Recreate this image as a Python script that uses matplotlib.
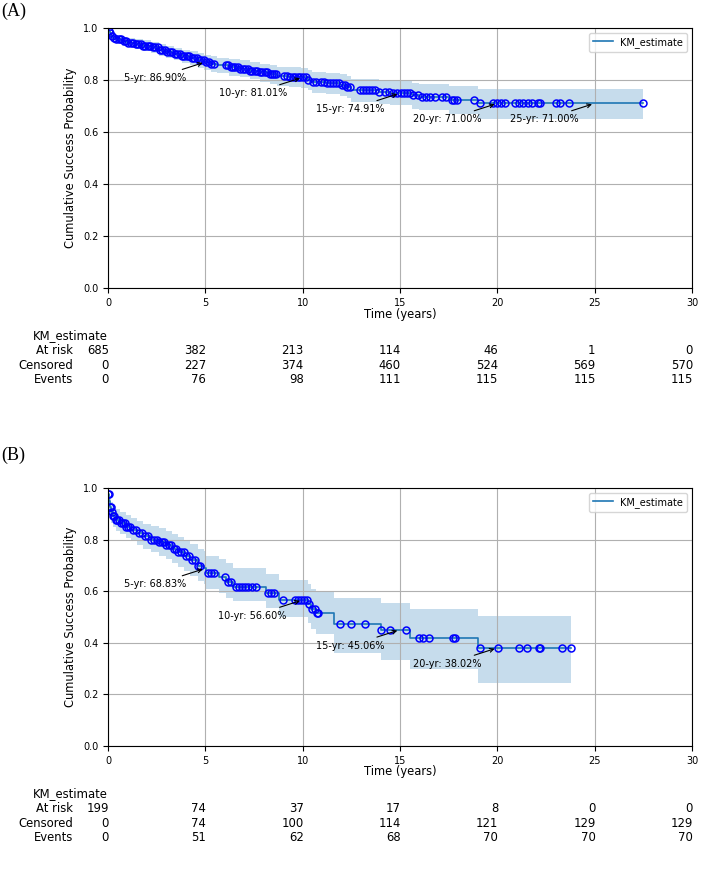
import numpy as np
import matplotlib
matplotlib.use("Agg")
import matplotlib.pyplot as plt
from matplotlib.transforms import offset_copy

plt.rcParams['font.family'] = 'DejaVu Sans'

# ---------------- Panel A data ----------------
time_a = [0, 0.03, 0.08, 0.15, 0.25, 0.4, 0.7, 1.0, 1.4, 1.8, 2.2, 2.6, 3.0, 3.4, 3.8,
          4.2, 4.6, 4.95, 5.3, 5.6, 6.2, 6.8, 7.3, 7.8, 8.3, 8.7, 9.3, 9.9, 10.3, 10.5,
          11.2, 11.9, 12.3, 12.5, 13.9, 14.5, 15.6, 16.0, 17.5, 19.0]
surv_a = [1.0, 0.99, 0.98, 0.97, 0.962, 0.956, 0.95, 0.944, 0.938, 0.932, 0.925, 0.917,
          0.909, 0.9, 0.892, 0.884, 0.876, 0.869, 0.862, 0.856, 0.849, 0.843, 0.836, 0.829,
          0.822, 0.815, 0.812, 0.8101, 0.8, 0.792, 0.787, 0.781, 0.774, 0.76, 0.755, 0.7491,
          0.741, 0.736, 0.724, 0.71]
ci_lo_a = [1.0, 0.982, 0.969, 0.957, 0.947, 0.94, 0.932, 0.925, 0.918, 0.911, 0.903, 0.894,
           0.885, 0.875, 0.866, 0.857, 0.848, 0.84, 0.832, 0.825, 0.817, 0.81, 0.802, 0.794,
           0.786, 0.778, 0.774, 0.771, 0.76, 0.751, 0.745, 0.738, 0.73, 0.715, 0.709, 0.702,
           0.69, 0.684, 0.669, 0.649]
ci_hi_a = [1.0, 0.997, 0.991, 0.983, 0.977, 0.972, 0.967, 0.962, 0.957, 0.952, 0.946, 0.939,
           0.932, 0.924, 0.917, 0.91, 0.903, 0.897, 0.891, 0.886, 0.88, 0.875, 0.869, 0.863,
           0.857, 0.851, 0.849, 0.848, 0.839, 0.832, 0.828, 0.823, 0.817, 0.803, 0.799, 0.795,
           0.79, 0.786, 0.777, 0.767]
end_a = 27.5
censor_a = [0.05, 0.12, 0.2, 0.3, 0.42, 0.55, 0.68, 0.8, 0.93, 1.05, 1.18, 1.3, 1.42, 1.55,
            1.68, 1.8, 1.92, 2.05, 2.18, 2.3, 2.42, 2.55, 2.68, 2.8, 2.92, 3.05, 3.18, 3.3,
            3.42, 3.55, 3.68, 3.8, 3.92, 4.05, 4.18, 4.3, 4.42, 4.55, 4.68, 4.8, 4.92, 5.05,
            5.18, 5.3, 5.45, 6.05, 6.18, 6.3, 6.42, 6.55, 6.68, 6.8, 6.92, 7.05, 7.18, 7.3,
            7.42, 7.55, 7.68, 7.8, 7.92, 8.05, 8.18, 8.3, 8.42, 8.55, 8.65, 9.05, 9.2, 9.35,
            9.5, 9.62, 9.75, 9.88, 10.0, 10.15, 10.3, 10.55, 10.7, 10.95, 11.1, 11.25, 11.4,
            11.55, 11.7, 11.85, 12.0, 12.15, 12.3, 12.45, 12.95, 13.1, 13.25, 13.4, 13.55,
            13.7, 13.9, 14.25, 14.45, 14.65, 14.85, 15.05, 15.2, 15.35, 15.5, 15.65, 15.95,
            16.15, 16.35, 16.55, 16.8, 17.15, 17.35, 17.65, 17.8, 17.95, 18.8, 19.1, 19.8,
            20.0, 20.2, 20.4, 20.9, 21.1, 21.3, 21.6, 21.8, 22.1, 22.2, 23.0, 23.2, 23.7, 27.5]
milestones_a = [5, 10, 15, 20, 25]
milestone_surv_a = [0.8690, 0.8101, 0.7491, 0.7100, 0.7100]
at_risk_a = [685, 382, 213, 114, 46, 1, 0]
censored_a = [0, 227, 374, 460, 524, 569, 570]
events_a = [0, 76, 98, 111, 115, 115, 115]

# ---------------- Panel B data ----------------
time_b = [0, 0.02, 0.06, 0.1, 0.15, 0.25, 0.4, 0.6, 0.9, 1.2, 1.5, 1.8, 2.2, 2.6, 3.0,
          3.3, 3.6, 3.9, 4.2, 4.6, 4.95, 5.05, 5.7, 6.05, 6.4, 8.1, 8.8, 10.25, 10.45,
          10.7, 11.6, 14.0, 15.5, 19.0]
surv_b = [1.0, 0.975, 0.95, 0.925, 0.905, 0.89, 0.877, 0.863, 0.85, 0.838, 0.825, 0.812,
          0.8, 0.79, 0.779, 0.765, 0.75, 0.735, 0.72, 0.698, 0.6883, 0.669, 0.655, 0.637,
          0.617, 0.592, 0.566, 0.55, 0.53, 0.514, 0.472, 0.4506, 0.417, 0.3802]
ci_lo_b = [1.0, 0.95, 0.91, 0.88, 0.865, 0.85, 0.835, 0.82, 0.805, 0.795, 0.78, 0.765,
           0.75, 0.737, 0.725, 0.71, 0.693, 0.677, 0.66, 0.64, 0.628, 0.61, 0.592, 0.575,
           0.56, 0.535, 0.5, 0.475, 0.455, 0.435, 0.362, 0.333, 0.297, 0.245]
ci_hi_b = [1.0, 0.99, 0.975, 0.96, 0.945, 0.93, 0.92, 0.905, 0.895, 0.885, 0.873, 0.862,
           0.852, 0.843, 0.834, 0.822, 0.809, 0.796, 0.783, 0.764, 0.755, 0.737, 0.724,
           0.708, 0.69, 0.667, 0.645, 0.627, 0.61, 0.595, 0.574, 0.553, 0.531, 0.504]
end_b = 23.8
censor_b = [0.02, 0.05, 0.1, 0.14, 0.2, 0.26, 0.33, 0.4, 0.48, 0.56, 0.65, 0.75, 0.85, 0.95,
            1.05, 1.15, 1.3, 1.45, 1.6, 1.75, 1.9, 2.05, 2.2, 2.35, 2.5, 2.62, 2.75, 2.88,
            3.0, 3.12, 3.25, 3.38, 3.5, 3.62, 3.75, 3.88, 4.0, 4.15, 4.3, 4.45, 4.6, 4.75,
            5.15, 5.3, 5.45, 6.0, 6.15, 6.3, 6.6, 6.75, 6.9, 7.05, 7.2, 7.4, 7.6, 8.2, 8.35,
            8.55, 9.0, 9.6, 9.75, 9.9, 10.05, 10.2, 10.35, 10.5, 10.65, 10.75, 10.8, 11.9,
            12.5, 13.2, 14.0, 14.5, 15.3, 16.0, 16.2, 16.5, 17.7, 17.85, 19.1, 20.05, 21.1,
            21.5, 22.15, 22.2, 23.3, 23.8]
milestones_b = [5, 10, 15, 20]
milestone_surv_b = [0.6883, 0.5660, 0.4506, 0.3802]
at_risk_b = [199, 74, 37, 17, 8, 0, 0]
censored_b = [0, 74, 100, 114, 121, 129, 129]
events_b = [0, 51, 62, 68, 70, 70, 70]

table_ticks = [0, 5, 10, 15, 20, 25, 30]
row_names = ["At risk", "Censored", "Events"]


def draw_panel(ax, times, surv, lo, hi, t_end, censors, miles, mile_surv, table):
    x = list(times) + [t_end]
    y = list(surv) + [surv[-1]]
    ax.fill_between(x, list(lo) + [lo[-1]], list(hi) + [hi[-1]], step='post',
                    color='C0', alpha=0.25, linewidth=0)
    ax.step(x, y, where='post', color='C0', lw=1.2, label='KM_estimate')

    # censored marks sit on the step curve
    idx = np.searchsorted(times, censors, side='right') - 1
    ax.plot(censors, np.array(surv)[idx], linestyle='None', marker='o', ms=5,
            mfc='none', mec='blue', mew=1.1)

    for m, p in zip(miles, mile_surv):
        ax.annotate(f"{m}-yr: {p * 100:.2f}%", xy=(m, p), xytext=(-50, -16),
                    textcoords='offset pixels', ha='center', va='center', fontsize=7,
                    arrowprops=dict(arrowstyle='->', color='black', lw=0.8))

    ax.set_xlim(0, 30)
    ax.set_ylim(0, 1.0)
    ax.set_xticks(table_ticks)
    ax.set_yticks([0, 0.2, 0.4, 0.6, 0.8, 1.0])
    ax.tick_params(labelsize=7)
    ax.grid(True, color='#b0b0b0', lw=0.8)
    ax.set_ylabel("Cumulative Success Probability", fontsize=8.3)
    ax.set_xlabel("Time (years)", fontsize=8.3, va='center')
    ax.xaxis.set_label_coords(0.5, -0.1)
    ax.legend(loc='upper right', fontsize=7)

    # at-risk table under the axis
    trans0 = offset_copy(ax.get_xaxis_transform(), fig=ax.figure, y=-48, units='dots')
    ax.text(0, 0, "KM_estimate", transform=trans0, ha='right', va='center', fontsize=8.4)
    for r, (name, vals) in enumerate(zip(row_names, table)):
        tr = offset_copy(ax.get_xaxis_transform(), fig=ax.figure, y=-62.5 - 14.7 * r,
                         units='dots')
        ax.text(-1.8, 0, name, transform=tr, ha='right', va='center', fontsize=8.4)
        for t, v in zip(table_ticks, vals):
            ax.text(t + 0.05, 0, str(v), transform=tr, ha='right', va='center', fontsize=8.4)


fig = plt.figure(figsize=(7.09, 8.8), dpi=100)
ax_a = fig.add_axes([0.1523, 0.6727, 0.8237, 0.2955])
ax_b = fig.add_axes([0.1523, 0.1523, 0.8237, 0.2932])

draw_panel(ax_a, time_a, surv_a, ci_lo_a, ci_hi_a, end_a, censor_a,
           milestones_a, milestone_surv_a, [at_risk_a, censored_a, events_a])
draw_panel(ax_b, time_b, surv_b, ci_lo_b, ci_hi_b, end_b, censor_b,
           milestones_b, milestone_surv_b, [at_risk_b, censored_b, events_b])

fig.text(0.002, 1 - 11 / 880, "(A)", family='Liberation Serif', fontsize=13,
         ha='left', va='center')
fig.text(0.002, 1 - 455 / 880, "(B)", family='Liberation Serif', fontsize=13,
         ha='left', va='center')

fig.savefig("out.png", dpi=100)
